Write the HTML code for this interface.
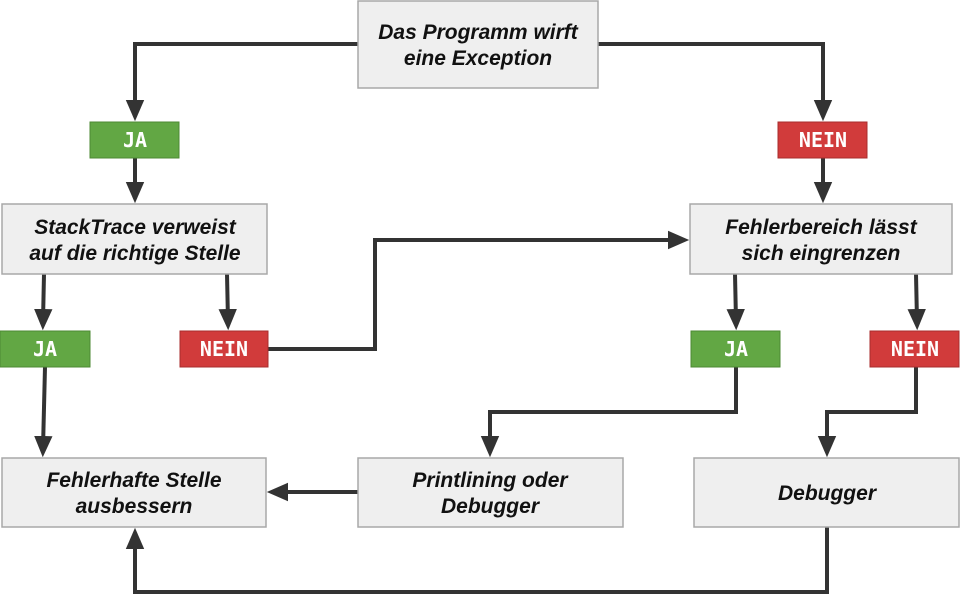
<!DOCTYPE html>
<html><head><meta charset="utf-8"><style>
body{margin:0;background:#fff;width:960px;height:595px;overflow:hidden}
svg text{font-family:"Liberation Sans",sans-serif}
.b{fill:#efefef;stroke:#a8a8a8;stroke-width:1.5}
.t{font-weight:bold;font-style:italic;font-size:21px;fill:#111;text-anchor:middle}
.l{font-family:"DejaVu Sans Mono",monospace!important;font-weight:bold;font-size:20px;fill:#fff;text-anchor:middle}
.c{fill:none;stroke:#333;stroke-width:4}
</style></head><body>
<svg width="960" height="595" viewBox="0 0 960 595" xmlns="http://www.w3.org/2000/svg">
<defs><marker id="a" markerWidth="6" markerHeight="6" refX="3" refY="3" orient="auto" markerUnits="strokeWidth"><path d="M0,0.7 L5.3,3 L0,5.3 z" fill="#333"/></marker></defs>
<g class="c">
<path d="M358,44 H135 V112" marker-end="url(#a)"/>
<path d="M598,44 H823 V112" marker-end="url(#a)"/>
<path d="M135,158 V194" marker-end="url(#a)"/>
<path d="M823,158 V194" marker-end="url(#a)"/>
<path d="M44,274 L43,321" marker-end="url(#a)"/>
<path d="M227,274 L228,321" marker-end="url(#a)"/>
<path d="M735,274 L736,321" marker-end="url(#a)"/>
<path d="M916,274 L917,321" marker-end="url(#a)"/>
<path d="M268,349 H375 V240 H680" marker-end="url(#a)"/>
<path d="M45,367 L43,448" marker-end="url(#a)"/>
<path d="M736,367 V412 H490 V448" marker-end="url(#a)"/>
<path d="M916,367 V412 H827 V448" marker-end="url(#a)"/>
<path d="M358,492 H276" marker-end="url(#a)"/>
<path d="M827,527 V592 H135 V537" marker-end="url(#a)"/>
</g>
<rect class="b" x="358" y="1" width="240" height="87"/>
<text class="t" x="478" y="39">Das Programm wirft</text>
<text class="t" x="478" y="65">eine Exception</text>
<rect class="b" x="2" y="204" width="265" height="70"/>
<text class="t" x="135" y="234">StackTrace verweist</text>
<text class="t" x="135" y="260">auf die richtige Stelle</text>
<rect class="b" x="690" y="204" width="262" height="70"/>
<text class="t" x="821" y="234">Fehlerbereich lässt</text>
<text class="t" x="821" y="260">sich eingrenzen</text>
<rect class="b" x="2" y="458" width="264" height="69"/>
<text class="t" x="134" y="487">Fehlerhafte Stelle</text>
<text class="t" x="134" y="513">ausbessern</text>
<rect class="b" x="358" y="458" width="265" height="69"/>
<text class="t" x="490" y="487">Printlining oder</text>
<text class="t" x="490" y="513">Debugger</text>
<rect class="b" x="694" y="458" width="265" height="69"/>
<text class="t" x="827" y="500">Debugger</text>
<rect x="90" y="122" width="89" height="36" fill="#62a744" stroke="#4c8a33"/>
<text class="l" x="135" y="147">JA</text>
<rect x="778" y="122" width="89" height="36" fill="#d13b3b" stroke="#a82d2d"/>
<text class="l" x="823" y="147">NEIN</text>
<rect x="0" y="331" width="90" height="36" fill="#62a744" stroke="#4c8a33"/>
<text class="l" x="45" y="356">JA</text>
<rect x="180" y="331" width="88" height="36" fill="#d13b3b" stroke="#a82d2d"/>
<text class="l" x="224" y="356">NEIN</text>
<rect x="691" y="331" width="89" height="36" fill="#62a744" stroke="#4c8a33"/>
<text class="l" x="736" y="356">JA</text>
<rect x="870" y="331" width="89" height="36" fill="#d13b3b" stroke="#a82d2d"/>
<text class="l" x="915" y="356">NEIN</text>
</svg>
</body></html>
